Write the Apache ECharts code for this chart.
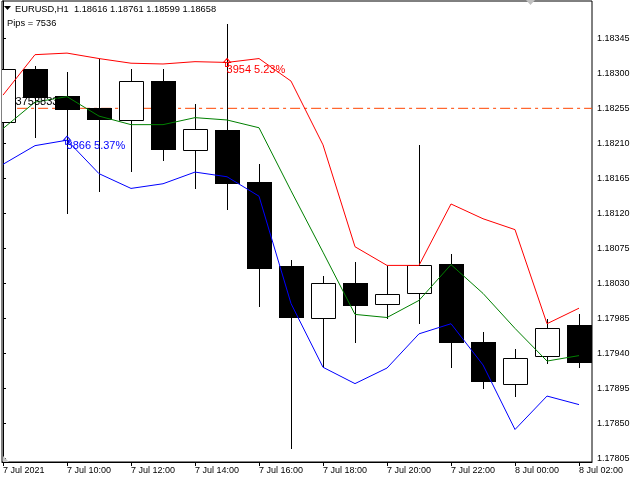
<!DOCTYPE html>
<html>
<head>
<meta charset="utf-8">
<script src="https://cdn.jsdelivr.net/npm/echarts@6/dist/echarts.min.js"></script>
<style>html,body{margin:0;padding:0;background:#fff}#c{width:640px;height:480px}</style>
</head>
<body>
<div id="c"></div>
<script>
// ---- data (hourly bars, index 0 = 7 Jul 08:00) ----
const xTickValues = [0, 2, 4, 6, 8, 10, 12, 14, 16, 18];
const xTickLabels = ['7 Jul 2021', '7 Jul 10:00', '7 Jul 12:00', '7 Jul 14:00', '7 Jul 16:00',
                     '7 Jul 18:00', '7 Jul 20:00', '7 Jul 22:00', '8 Jul 00:00', '8 Jul 02:00'];
const yTickLabels = ['1.17805', '1.17850', '1.17895', '1.17940', '1.17985', '1.18030', '1.18075',
                     '1.18120', '1.18165', '1.18210', '1.18255', '1.18300', '1.18345'];

const open  = [1.18237, 1.18306, 1.18271, 1.18255, 1.18240, 1.18290, 1.18202, 1.18227, 1.18160, 1.18052,
               1.17986, 1.18030, 1.18003, 1.18017, 1.18055, 1.17955, 1.17900, 1.17936, 1.17976];
const high  = [1.18346, 1.18309, 1.18302, 1.18318, 1.18306, 1.18306, 1.18261, 1.18363, 1.18183, 1.18060,
               1.18039, 1.18057, 1.18052, 1.18208, 1.18068, 1.17967, 1.17946, 1.17984, 1.17991];
const low   = [1.18223, 1.18218, 1.18121, 1.18149, 1.18174, 1.18188, 1.18152, 1.18126, 1.18001, 1.17818,
               1.17922, 1.17954, 1.17985, 1.17979, 1.17922, 1.17895, 1.17885, 1.17928, 1.17922];
const close = [1.18305, 1.18270, 1.18254, 1.18241, 1.18290, 1.18203, 1.18228, 1.18159, 1.18050, 1.17987,
               1.18030, 1.18002, 1.18016, 1.18054, 1.17954, 1.17904, 1.17934, 1.17973, 1.17929];

const upper  = [1.18272, 1.18324, 1.18326, 1.18319, 1.18313, 1.18312, 1.18315, 1.18314, 1.18319, 1.18290,
                1.18208, 1.18077, 1.18053, 1.18053, 1.18132, 1.18113, 1.18099, 1.17978, 1.17998];
const middle = [1.18229, 1.18263, 1.18270, 1.18245, 1.18234, 1.18234, 1.18243, 1.18240, 1.18230, 1.18149,
                1.18070, 1.17990, 1.17986, 1.18008, 1.18054, 1.18017, 1.17972, 1.17930, 1.17937];
const lower  = [1.18183, 1.18207, 1.18214, 1.18171, 1.18152, 1.18158, 1.18173, 1.18167, 1.18142, 1.18004,
                1.17922, 1.17901, 1.17921, 1.17965, 1.17978, 1.17925, 1.17842, 1.17885, 1.17874];

const levelPrice = 1.18255;
const levelStart = 0.44;
const levelText = '3753833';
const upperNote = {idx: 7, text: '3954 5.23%'};
const lowerNote = {idx: 2, text: '3866 5.37%'};
const headerText = 'EURUSD,H1  1.18616 1.18761 1.18599 1.18658';
const pipsText = 'Pips = 7536';

// ---- chart ----
const X_MIN = -0.03125, X_MAX = 18.40625;
const Y_MIN = 1.178002, Y_MAX = 1.18393;
const FONT = '"Liberation Sans", Arial, sans-serif';

const candleData = open.map((o, i) => [i, o, close[i], low[i], high[i]]);

function renderCandle(params, api) {
  const i = api.value(0), o = api.value(1), c = api.value(2), l = api.value(3), h = api.value(4);
  const pO = api.coord([i, o]), pC = api.coord([i, c]), pL = api.coord([i, l]), pH = api.coord([i, h]);
  const cx = Math.round(pO[0]);
  const top = Math.round(Math.min(pO[1], pC[1]));
  const bot = Math.round(Math.max(pO[1], pC[1]));
  const bull = c >= o;
  const children = [{
    type: 'line',
    shape: {x1: cx + 0.5, y1: Math.round(pH[1]), x2: cx + 0.5, y2: Math.round(pL[1]) + 1},
    style: {stroke: '#000', lineWidth: 1}
  }];
  if (bull) {
    children.push({
      type: 'rect',
      shape: {x: cx - 11.5, y: top + 0.5, width: 24, height: Math.max(bot - top, 1)},
      style: {fill: '#fff', stroke: '#000', lineWidth: 1}
    });
  } else {
    children.push({
      type: 'rect',
      shape: {x: cx - 12, y: top, width: 25, height: Math.max(bot - top + 1, 1)},
      style: {fill: '#000'}
    });
  }
  return {type: 'group', children: children};
}

const chart = echarts.init(document.getElementById('c'), null, {renderer: 'canvas'});
chart.setOption({
  animation: false,
  backgroundColor: '#fff',
  grid: {left: 2, right: 48, top: 1, bottom: 18, show: true, borderColor: '#000', borderWidth: 1, backgroundColor: 'transparent'},
  xAxis: {
    type: 'value', min: X_MIN, max: X_MAX,
    axisLine: {show: true, lineStyle: {color: '#000', width: 1}},
    axisTick: {show: true, length: 4, lineStyle: {color: '#000'}, customValues: xTickValues},
    axisLabel: {
      show: true, customValues: xTickValues, color: '#000', fontSize: 9, fontFamily: FONT,
      align: 'left', margin: 4,
      formatter: v => xTickLabels[xTickValues.indexOf(Math.round(v))] || ''
    },
    splitLine: {show: false}
  },
  yAxis: {
    type: 'value', position: 'right', min: Y_MIN, max: Y_MAX, scale: true,
    axisLine: {show: true, lineStyle: {color: '#000', width: 1}},
    axisTick: {show: true, length: 3, lineStyle: {color: '#000'}, customValues: yTickLabels.map(Number)},
    axisLabel: {
      show: true, customValues: yTickLabels.map(Number), color: '#000', fontSize: 9, fontFamily: FONT, margin: 5,
      formatter: v => v.toFixed(5)
    },
    splitLine: {show: false}
  },
  series: [
    {
      type: 'line', z: 1, silent: true, symbol: 'none',
      data: [[levelStart, levelPrice], [X_MAX, levelPrice]],
      lineStyle: {color: '#ff4500', width: 1, type: [10, 4, 3, 4]}
    },
    {
      type: 'custom', z: 2, clip: true, renderItem: renderCandle,
      encode: {x: 0, y: [1, 2, 3, 4]},
      data: candleData
    },
    {type: 'line', z: 3, symbol: 'none', data: upper.map((v, i) => [i, v]), lineStyle: {color: '#ff0000', width: 1}},
    {type: 'line', z: 3, symbol: 'none', data: middle.map((v, i) => [i, v]), lineStyle: {color: '#008000', width: 1}},
    {type: 'line', z: 3, symbol: 'none', data: lower.map((v, i) => [i, v]), lineStyle: {color: '#0000ff', width: 1}},
    {
      type: 'scatter', z: 4,
      symbol: 'path://M5,0 L10,5 L7,5 L7,10 L3,10 L3,5 L0,5 Z', symbolSize: [7, 8],
      itemStyle: {opacity: 1},
      data: [
        {value: [upperNote.idx, upper[upperNote.idx]],
         itemStyle: {color: 'rgba(0,0,0,0)', borderColor: '#ff0000', borderWidth: 1, opacity: 1},
         label: {show: true, formatter: upperNote.text, position: [3.5, 12], color: '#ff0000', opacity: 1}},
        {value: [lowerNote.idx, lower[lowerNote.idx]],
         itemStyle: {color: 'rgba(0,0,0,0)', borderColor: '#0000ff', borderWidth: 1, opacity: 1},
         label: {show: true, formatter: lowerNote.text, position: [3.5, 10], color: '#0000ff', opacity: 1}}
      ],
      label: {fontSize: 11, fontFamily: FONT, align: 'left', verticalAlign: 'middle', opacity: 1}
    },
    {
      type: 'scatter', z: 4, symbolSize: 1, itemStyle: {color: 'rgba(0,0,0,0)', opacity: 1},
      data: [[levelStart, levelPrice]],
      label: {show: true, formatter: levelText, position: [-1, -5.5], align: 'left', verticalAlign: 'middle',
              fontSize: 11, fontFamily: FONT, color: '#000', opacity: 1}
    }
  ],
  graphic: [
    {type: 'polygon', shape: {points: [[4, 6], [11, 6], [7.5, 10]]}, style: {fill: '#000'}, z: 10},
    {type: 'text', x: 15, y: 9.5, style: {text: headerText, fill: '#000', font: '9.3px ' + FONT, verticalAlign: 'middle'}, z: 10},
    {type: 'text', x: 7, y: 23.5, style: {text: pipsText, fill: '#000', font: '9.3px ' + FONT, verticalAlign: 'middle'}, z: 10},
    {type: 'polygon', shape: {points: [[526, 0], [535, 0], [530.5, 5]]}, style: {fill: '#c0c0c0'}, z: 10},
    {type: 'polygon', shape: {points: [[3, 456], [3, 462], [9, 462]]}, style: {fill: '#c8c8c8'}, z: 10}
  ]
});
</script>
</body>
</html>
